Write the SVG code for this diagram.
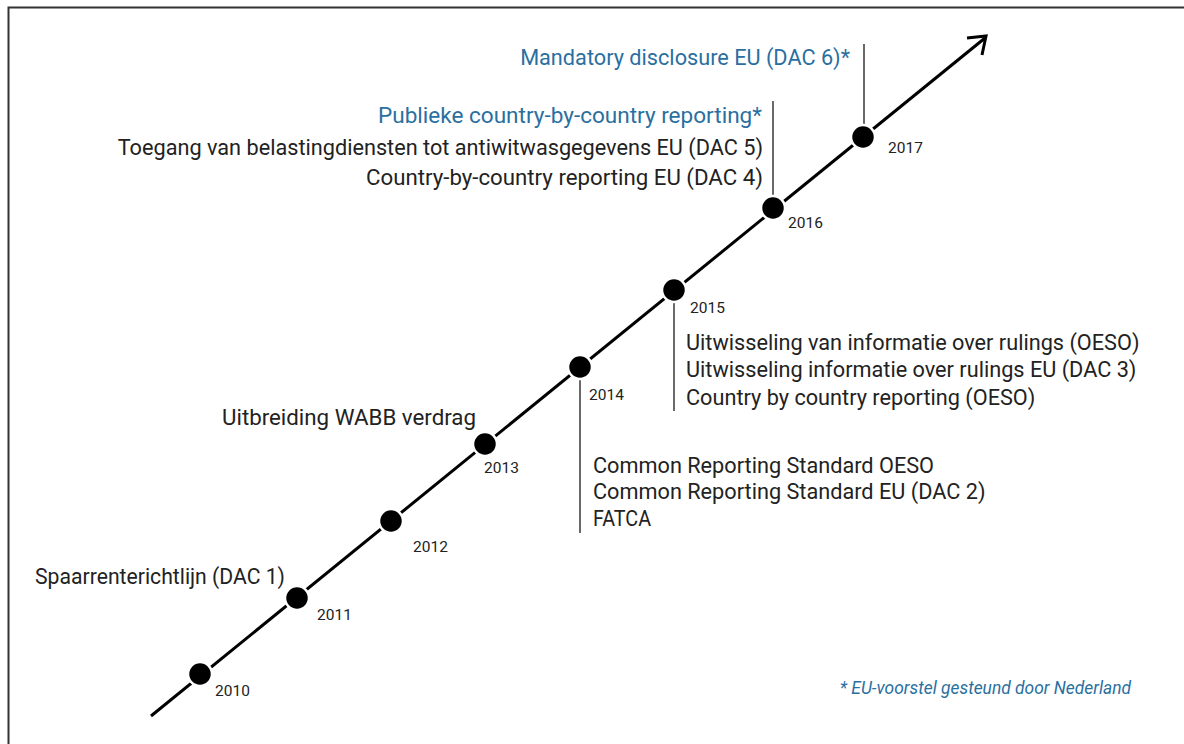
<svg xmlns="http://www.w3.org/2000/svg" width="1184" height="744" viewBox="0 0 1184 744">
<style>
  .lbl { font-family: Roboto, "Open Sans", sans-serif; font-size: 21.7px; fill: #222; }
  .blue { fill: #2a6f9f; }
  .yr { font-family: Roboto, "Open Sans", sans-serif; font-size: 15.5px; fill: #222; }
  .note { font-family: Roboto, "Open Sans", sans-serif; font-size: 17.4px; font-style: italic; fill: #2a6f9f; }
  .stem { stroke: #444; stroke-width: 1.6; fill: none; }
  .dot { fill: #000; stroke: #fff; stroke-width: 2.5; }
  .axis { stroke: #000; stroke-width: 3; fill: none; stroke-linecap: butt; }
</style>
<rect x="0" y="0" width="1184" height="744" fill="#fff"/>
<rect x="8.5" y="7.5" width="1300" height="900" fill="none" stroke="#333" stroke-width="2"/>
<g id="connectors">
  <line class="axis" x1="151" y1="716" x2="985" y2="38"/>
  <polyline class="axis" points="967,38 986,36 982,55" stroke-linejoin="miter"/>
  <line class="stem" x1="864" y1="44" x2="864" y2="137"/>
  <line class="stem" x1="773" y1="101" x2="773" y2="208"/>
  <line class="stem" x1="674" y1="290" x2="674" y2="411"/>
  <line class="stem" x1="580" y1="367" x2="580" y2="533"/>
</g>
<g id="y2010"><circle class="dot" cx="200" cy="674" r="12"/><text class="yr" x="215" y="696">2010</text></g>
<g id="y2011"><circle class="dot" cx="297" cy="598" r="12"/><text class="yr" x="317" y="620">2011</text>
  <text class="lbl" x="35" y="584" textLength="250" lengthAdjust="spacingAndGlyphs">Spaarrenterichtlijn (DAC 1)</text></g>
<g id="y2012"><circle class="dot" cx="391" cy="521" r="12"/><text class="yr" x="413" y="552">2012</text></g>
<g id="y2013"><circle class="dot" cx="485" cy="444" r="12"/><text class="yr" x="484" y="473">2013</text>
  <text class="lbl" x="222" y="425" textLength="254" lengthAdjust="spacingAndGlyphs">Uitbreiding WABB verdrag</text></g>
<g id="y2014"><circle class="dot" cx="580" cy="367" r="12"/><text class="yr" x="589" y="400">2014</text>
  <text class="lbl" x="593" y="473">Common Reporting Standard OESO</text>
  <text class="lbl" x="593" y="499">Common Reporting Standard EU (DAC 2)</text>
  <text class="lbl" x="593" y="526" textLength="58" lengthAdjust="spacingAndGlyphs">FATCA</text></g>
<g id="y2015"><circle class="dot" cx="674" cy="290" r="12"/><text class="yr" x="690" y="313">2015</text>
  <text class="lbl" x="686" y="350">Uitwisseling van informatie over rulings (OESO)</text>
  <text class="lbl" x="686" y="377">Uitwisseling informatie over rulings EU (DAC 3)</text>
  <text class="lbl" x="686" y="405">Country by country reporting (OESO)</text></g>
<g id="y2016"><circle class="dot" cx="773" cy="208" r="12"/><text class="yr" x="788" y="228">2016</text>
  <text class="lbl blue" x="378" y="123" textLength="384" lengthAdjust="spacingAndGlyphs">Publieke country-by-country reporting*</text>
  <text class="lbl" x="763" y="155" text-anchor="end">Toegang van belastingdiensten tot antiwitwasgegevens EU (DAC 5)</text>
  <text class="lbl" x="366" y="185" textLength="397" lengthAdjust="spacingAndGlyphs">Country-by-country reporting EU (DAC 4)</text></g>
<g id="y2017"><circle class="dot" cx="863" cy="137" r="12"/><text class="yr" x="888" y="153">2017</text>
  <text class="lbl blue" x="850" y="65" text-anchor="end">Mandatory disclosure EU (DAC 6)*</text></g>
<g id="footnote"><text class="note" x="1131" y="694" text-anchor="end">* EU-voorstel gesteund door Nederland</text></g>
</svg>
